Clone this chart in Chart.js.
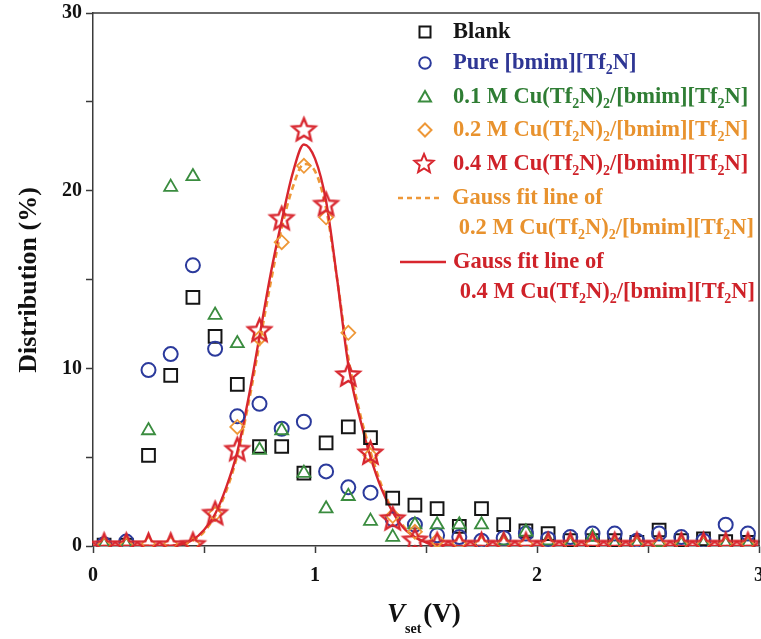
<!DOCTYPE html>
<html>
<head>
<meta charset="utf-8">
<script src="https://cdn.jsdelivr.net/npm/chart.js@4.4.1/dist/chart.umd.min.js"></script>
<style>
  html, body { margin: 0; padding: 0; background: #fff; }
  #wrap { width: 761px; height: 639px; }
</style>
</head>
<body>
<div id="wrap"><canvas id="chart" width="761" height="639"></canvas></div>
<script>
// set voltage bins (V), bin centres
const vSet = [0.05, 0.15, 0.25, 0.35, 0.45, 0.55, 0.65, 0.75, 0.85, 0.95,
              1.05, 1.15, 1.25, 1.35, 1.45, 1.55, 1.65, 1.75, 1.85, 1.95,
              2.05, 2.15, 2.25, 2.35, 2.45, 2.55, 2.65, 2.75, 2.85, 2.95];

// distribution (%) per bin
const blank  = [0.05, 0.05, 5.1, 9.6, 14.0, 11.8, 9.1, 5.6, 5.6, 4.1,
                5.8, 6.7, 6.1, 2.7, 2.3, 2.1, 1.1, 2.1, 1.2, 0.85,
                0.7, 0.3, 0.3, 0.3, 0.2, 0.9, 0.3, 0.4, 0.25, 0.2];
const pureIL = [0.1, 0.25, 9.9, 10.8, 15.8, 11.1, 7.3, 8.0, 6.6, 7.0,
                4.2, 3.3, 3.0, 1.5, 1.2, 0.6, 0.5, 0.3, 0.45, 0.7,
                0.4, 0.5, 0.7, 0.7, 0.3, 0.7, 0.5, 0.3, 1.2, 0.7];
const cu01   = [0.05, 0.05, 6.5, 20.2, 20.8, 13.0, 11.4, 5.4, 6.5, 4.1,
                2.1, 2.8, 1.4, 0.5, 1.2, 1.2, 1.2, 1.2, 0.3, 0.8,
                0.3, 0.1, 0.5, 0.1, 0.1, 0.2, 0.1, 0.1, 0.1, 0.1];
const cu02   = [0.05, 0.05, 0.1, 0.1, 0.1, 1.8, 6.7, 11.7, 17.1, 21.4,
                18.5, 12.0, 5.1, 1.7, 0.8, 0.3, 0.15, 0.1, 0.1, 0.1,
                0.1, 0.1, 0.1, 0.1, 0.1, 0.1, 0.1, 0.1, 0.1, 0.1];
const cu04   = [0.02, 0.02, 0.02, 0.02, 0.05, 1.8, 5.4, 12.1, 18.4, 23.4,
                19.2, 9.6, 5.2, 1.5, 0.3, 0.05, 0.05, 0.05, 0.05, 0.05,
                0.05, 0.05, 0.05, 0.05, 0.05, 0.05, 0.05, 0.05, 0.05, 0.05];

// Gauss fit curves, sampled
const fitV  = [0.00, 0.35, 0.40, 0.45, 0.50, 0.55, 0.60, 0.65, 0.70, 0.75,
               0.80, 0.85, 0.90, 0.95, 1.00, 1.05, 1.10, 1.15, 1.20, 1.25,
               1.30, 1.35, 1.40, 1.45, 1.50, 1.55, 1.60, 1.70, 3.00];
const fit02 = [0, 0.02, 0.1, 0.3, 0.8, 1.7, 3.1, 5.1, 8.0, 11.4,
               14.8, 17.9, 20.2, 21.5, 21.1, 19.0, 15.0, 10.6, 7.6, 5.3,
               3.4, 2.0, 1.1, 0.5, 0.22, 0.09, 0.03, 0, 0];
const fit04 = [0, 0.02, 0.1, 0.35, 0.9, 1.8, 3.3, 5.3, 8.3, 11.8,
               15.3, 18.3, 21.0, 22.6, 21.8, 19.4, 15.0, 10.2, 7.3, 5.0,
               3.2, 1.9, 1.0, 0.5, 0.2, 0.08, 0.03, 0, 0];

// legend text; "_x" / "_{xy}" mark subscripts
const legendLabels = [
  "Blank",
  "Pure [bmim][Tf_2N]",
  "0.1 M Cu(Tf_2N)_2/[bmim][Tf_2N]",
  "0.2 M Cu(Tf_2N)_2/[bmim][Tf_2N]",
  "0.4 M Cu(Tf_2N)_2/[bmim][Tf_2N]",
  ["Gauss fit line of", " 0.2 M Cu(Tf_2N)_2/[bmim][Tf_2N]"],
  ["Gauss fit line of", " 0.4 M Cu(Tf_2N)_2/[bmim][Tf_2N]"],
];
const yTitle = "Distribution (%)";

const SERIF = '"Liberation Serif", "Times New Roman", serif';
const C = {
  black: "#151515", blue: "#2b3a9c", green: "#3a8c3f",
  orange: "#ee9838", red: "#d8262e",
  blueText: "#2e3694", greenText: "#2f7d34", orangeText: "#e8922e", redText: "#cf2229",
};

function starPath(ctx, cx, cy, ro, ri) {
  ctx.beginPath();
  for (let i = 0; i < 10; i++) {
    const r = i % 2 ? ri : ro;
    const a = -Math.PI / 2 + i * Math.PI / 5;
    const px = cx + r * Math.cos(a), py = cy + r * Math.sin(a);
    i ? ctx.lineTo(px, py) : ctx.moveTo(px, py);
  }
  ctx.closePath();
}

function makeStar(ro, lw, color) {
  const c = document.createElement("canvas");
  c.width = c.height = Math.ceil(ro * 2 + lw * 2 + 2);
  const g = c.getContext("2d");
  g.strokeStyle = color;
  g.lineWidth = lw;
  g.lineJoin = "miter";
  starPath(g, c.width / 2, c.height / 2, ro, ro * 0.45);
  g.stroke();
  return c;
}

// text with subscripts, left aligned, vertically centred on y
function drawRich(ctx, text, x, y, size, color, weight) {
  const parts = text.split(/(_\{[^}]*\}|_.)/).filter(Boolean);
  ctx.fillStyle = color;
  ctx.textBaseline = "middle";
  ctx.textAlign = "left";
  let cx = x;
  for (const p of parts) {
    const sub = p[0] === "_" && p.length > 1;
    const t = sub ? p.replace(/^_\{?/, "").replace(/\}$/, "") : p;
    const fs = sub ? Math.round(size * 0.6) : size;
    ctx.font = `${weight || "bold"} ${fs}px ${SERIF}`;
    ctx.fillText(t, cx, sub ? y + size * 0.32 : y);
    cx += ctx.measureText(t).width;
  }
  return cx;
}

const pts = ys => vSet.map((x, i) => ({x, y: ys[i]}));
const fitPts = ys => fitV.map((x, i) => ({x, y: ys[i]}));

const scatterBase = {
  type: "scatter",
  showLine: false,
  clip: 1,
  pointBackgroundColor: "rgba(0,0,0,0)",
  pointBorderWidth: 2,
};

const datasets = [
  {
    type: "line", label: "fit02", data: fitPts(fit02), order: 7,
    borderColor: C.orange, borderWidth: 2.6, borderDash: [6, 4],
    pointRadius: 0, cubicInterpolationMode: "monotone", fill: false,
  },
  {
    type: "line", label: "fit04", data: fitPts(fit04), order: 6,
    borderColor: C.red, borderWidth: 2.4,
    pointRadius: 0, cubicInterpolationMode: "monotone", fill: false,
  },
  {...scatterBase, label: "Blank", data: pts(blank), order: 5,
    pointStyle: "rect", pointRadius: 9, pointBorderColor: C.black},
  {...scatterBase, label: "Pure", data: pts(pureIL), order: 4,
    pointStyle: "circle", pointRadius: 7, pointBorderColor: C.blue},
  {...scatterBase, label: "0.1 M", data: pts(cu01), order: 3,
    pointStyle: "triangle", pointRadius: 7.5, pointBorderColor: C.green, pointBorderWidth: 1.8},
  {...scatterBase, label: "0.2 M", data: pts(cu02), order: 2,
    pointStyle: "rectRot", pointRadius: 7, pointBorderColor: C.orange, pointBorderWidth: 1.8},
  {...scatterBase, label: "0.4 M", data: pts(cu04), order: 1,
    pointStyle: makeStar(12, 2.4, C.red), pointRadius: 12},
];

const legendAndFrame = {
  id: "legendAndFrame",
  afterDraw(chart) {
    const {ctx, chartArea: a} = chart;
    ctx.save();

    // top and right edges of the frame
    ctx.strokeStyle = "#3a3a3a";
    ctx.lineWidth = 1.5;
    ctx.beginPath();
    ctx.moveTo(a.left, a.top);
    ctx.lineTo(a.right, a.top);
    ctx.lineTo(a.right, a.bottom);
    ctx.stroke();

    // legend
    const fs = 22.5, mx = 425, tx = 453;
    const rowY = [32, 63, 97, 130, 164];
    const markColors = [C.black, C.blue, C.green, C.orange, C.red];
    const textColors = [C.black, C.blueText, C.greenText, C.orangeText, C.redText];
    for (let i = 0; i < 5; i++) {
      const y = rowY[i];
      ctx.strokeStyle = markColors[i];
      ctx.lineWidth = 2;
      ctx.beginPath();
      if (i === 0) ctx.rect(mx - 5.5, y - 5.5, 11, 11);
      if (i === 1) ctx.arc(mx, y, 5.8, 0, Math.PI * 2);
      if (i === 2) { ctx.moveTo(mx, y - 6); ctx.lineTo(mx + 6, y + 4.5); ctx.lineTo(mx - 6, y + 4.5); ctx.closePath(); }
      if (i === 3) { ctx.moveTo(mx, y - 6.5); ctx.lineTo(mx + 6.5, y); ctx.lineTo(mx, y + 6.5); ctx.lineTo(mx - 6.5, y); ctx.closePath(); }
      if (i === 4) starPath(ctx, mx - 1, y, 10, 4.5);
      ctx.stroke();
      drawRich(ctx, legendLabels[i], tx, y, fs, textColors[i]);
    }

    // fit-line entries
    ctx.lineWidth = 2.4;
    ctx.strokeStyle = C.orange;
    ctx.setLineDash([5, 4]);
    ctx.beginPath(); ctx.moveTo(398, 198); ctx.lineTo(441, 198); ctx.stroke();
    ctx.setLineDash([]);
    ctx.strokeStyle = C.red;
    ctx.beginPath(); ctx.moveTo(400, 262); ctx.lineTo(446, 262); ctx.stroke();
    drawRich(ctx, legendLabels[5][0], 452, 198, fs, C.orangeText);
    drawRich(ctx, legendLabels[5][1], 453, 228, fs, C.orangeText);
    drawRich(ctx, legendLabels[6][0], 453, 262, fs, C.redText);
    drawRich(ctx, legendLabels[6][1], 454, 292, fs, C.redText);

    // y title
    ctx.save();
    ctx.translate(29, 280);
    ctx.rotate(-Math.PI / 2);
    ctx.font = `bold 26px ${SERIF}`;
    ctx.fillStyle = "#111";
    ctx.textAlign = "center";
    ctx.textBaseline = "middle";
    ctx.fillText(yTitle, 0, 0);
    ctx.restore();

    // x title: V_set (V)
    ctx.fillStyle = "#111";
    ctx.textBaseline = "alphabetic";
    ctx.textAlign = "left";
    ctx.font = `italic bold 27px ${SERIF}`;
    ctx.fillText("V", 387, 622);
    let xx = 387 + ctx.measureText("V").width;
    ctx.font = `bold 14px ${SERIF}`;
    ctx.fillText("set", xx, 633);
    xx += ctx.measureText("set").width + 2;
    ctx.font = `bold 27px ${SERIF}`;
    ctx.fillText("(V)", Math.max(xx, 423), 622);

    ctx.restore();
  }
};

const tickFont = {family: SERIF, size: 20, weight: "bold"};

new Chart(document.getElementById("chart"), {
  data: {datasets},
  options: {
    responsive: false,
    animation: false,
    events: [],
    layout: {autoPadding: false, padding: {top: 13, right: 2, left: 0, bottom: 0}},
    plugins: {legend: {display: false}, tooltip: {enabled: false}},
    scales: {
      x: {
        type: "linear", min: 0, max: 3,
        ticks: {
          stepSize: 0.5, color: "#111", font: tickFont, padding: 11, maxRotation: 0,
          callback: v => Number.isInteger(v) ? v : "",
        },
        grid: {drawOnChartArea: false, tickLength: 7, tickColor: "#3a3a3a", tickWidth: 1.5},
        border: {color: "#3a3a3a", width: 1.5},
        afterFit(s) { s.height = 93; s.paddingLeft = 0; s.paddingRight = 0; },
      },
      y: {
        type: "linear", min: 0, max: 30,
        ticks: {
          stepSize: 5, color: "#111", font: tickFont, padding: 4,
          callback: v => v % 10 === 0 ? v : "",
        },
        grid: {drawOnChartArea: false, tickLength: 7, tickColor: "#3a3a3a", tickWidth: 1.5},
        border: {color: "#3a3a3a", width: 1.5},
        afterFit(s) { s.width = 93; s.paddingTop = 0; s.paddingBottom = 0; },
      },
    },
  },
  plugins: [legendAndFrame],
});
</script>
</body>
</html>
